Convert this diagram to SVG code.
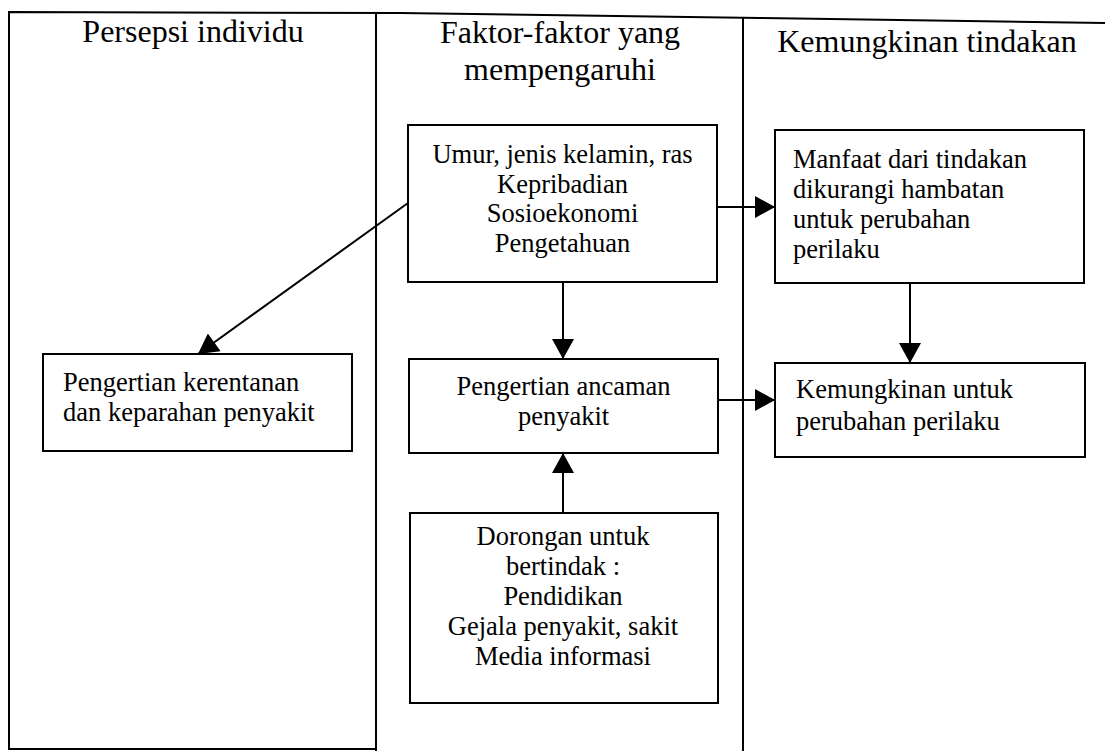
<svg xmlns="http://www.w3.org/2000/svg" width="1105" height="751" viewBox="0 0 1105 751">
<style>
text { font-family: "Liberation Serif", "Times New Roman", serif; fill: #000; }
.hdr { font-size: 32px; text-anchor: middle; }
.lbl { font-size: 26.5px; }
.mid { text-anchor: middle; }
.box { fill: #fff; stroke: #000; stroke-width: 2; }
.frame { fill: none; stroke: #000; stroke-width: 2; }
.conn { fill: none; stroke: #000; stroke-width: 2; marker-end: url(#arr); }
</style>
<defs>
<marker id="arr" markerUnits="userSpaceOnUse" markerWidth="22" markerHeight="22" viewBox="0 0 20 22" refX="20" refY="11" orient="auto">
<path d="M0,0 L20,11 L0,22 Z" fill="#000"/>
</marker>
</defs>
<rect width="1105" height="751" fill="#fff"/>
<g id="frame">
<polyline class="frame" points="1105,23 760,18 400,13 9,12 9,749 376,749"/>
<line class="frame" x1="376" y1="13" x2="376" y2="751"/>
<line class="frame" x1="743" y1="17" x2="743" y2="751"/>
</g>
<g id="headers">
<text class="hdr" x="193" y="42">Persepsi individu</text>
<text class="hdr" x="560" y="43">Faktor-faktor yang</text>
<text class="hdr" x="560" y="80">mempengaruhi</text>
<text class="hdr" x="927" y="52">Kemungkinan tindakan</text>
</g>
<g id="connectors">
<line class="conn" x1="717" y1="207" x2="775" y2="207"/>
<line class="conn" x1="910" y1="283" x2="910" y2="363"/>
<line class="conn" x1="563" y1="282" x2="563" y2="359"/>
<line class="conn" x1="563" y1="513" x2="563" y2="453"/>
<line class="conn" x1="718" y1="400" x2="775" y2="400"/>
<line class="conn" x1="408" y1="203" x2="198" y2="354"/>
</g>
<g id="node-umur">
<rect class="box" x="408" y="125" width="309" height="157"/>
<text class="lbl mid" x="562.5" y="163">Umur, jenis kelamin, ras</text>
<text class="lbl mid" x="562.5" y="193">Kepribadian</text>
<text class="lbl mid" x="562.5" y="222">Sosioekonomi</text>
<text class="lbl mid" x="562.5" y="252">Pengetahuan</text>
</g>
<g id="node-manfaat">
<rect class="box" x="775" y="130" width="309" height="153"/>
<text class="lbl" x="793" y="168">Manfaat dari tindakan</text>
<text class="lbl" x="793" y="198">dikurangi hambatan</text>
<text class="lbl" x="793" y="228">untuk perubahan</text>
<text class="lbl" x="793" y="258">perilaku</text>
</g>
<g id="node-kerentanan">
<rect class="box" x="43" y="354" width="309" height="97"/>
<text class="lbl" x="63" y="391">Pengertian kerentanan</text>
<text class="lbl" x="63" y="421">dan keparahan penyakit</text>
</g>
<g id="node-ancaman">
<rect class="box" x="409" y="359" width="309" height="94"/>
<text class="lbl mid" x="563.5" y="395">Pengertian ancaman</text>
<text class="lbl mid" x="563.5" y="425">penyakit</text>
</g>
<g id="node-kemungkinan">
<rect class="box" x="775" y="363" width="310" height="94"/>
<text class="lbl" x="796" y="398">Kemungkinan untuk</text>
<text class="lbl" x="796" y="430">perubahan perilaku</text>
</g>
<g id="node-dorongan">
<rect class="box" x="410" y="513" width="308" height="190"/>
<text class="lbl mid" x="563" y="545">Dorongan untuk</text>
<text class="lbl mid" x="563" y="575">bertindak :</text>
<text class="lbl mid" x="563" y="605">Pendidikan</text>
<text class="lbl mid" x="563" y="635">Gejala penyakit, sakit</text>
<text class="lbl mid" x="563" y="665">Media informasi</text>
</g>
</svg>
